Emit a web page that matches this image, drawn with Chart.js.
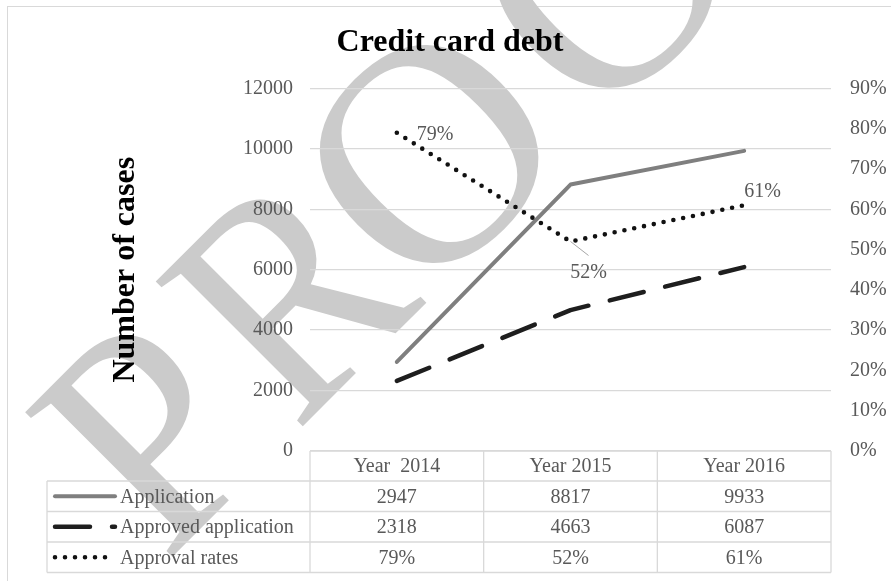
<!DOCTYPE html>
<html>
<head>
<meta charset="utf-8">
<title>Credit card debt</title>
<script src="https://cdn.jsdelivr.net/npm/chart.js@4.4.1/dist/chart.umd.min.js"></script>
<style>
  html, body { margin: 0; padding: 0; background: #fff; }
  canvas { display: block; }
</style>
</head>
<body>
<canvas id="debtChart" width="891" height="581"></canvas>
<script>
// categories and series
const years = ['Year  2014', 'Year 2015', 'Year 2016'];
const applications = [2947, 8817, 9933];
const approved = [2318, 4663, 6087];
const approvalRates = [79, 52, 61];

// axis ranges
const casesMax = 12000, casesStep = 2000;
const rateMax = 90, rateStep = 10;

const serif = '"Liberation Serif", "Times New Roman", serif';
const textGrey = '#595959';
const lineGrey = '#d9d9d9';

// background, frame and the grey PROOF stamp behind everything
const backdrop = {
  id: 'backdrop',
  beforeDraw(chart) {
    const ctx = chart.ctx;
    ctx.save();
    ctx.fillStyle = '#fff';
    ctx.fillRect(0, 0, chart.width, chart.height);
    ctx.strokeStyle = lineGrey;
    ctx.lineWidth = 1;
    ctx.strokeRect(7.5, 6.5, chart.width, chart.height);

    // letter, offset along the slanted baseline, horizontal squeeze
    const stamp = [['P', -352, 0.92], ['R', -167, 0.88], ['O', 11, 1], ['O', 259, 1], ['F', 496, 1]];
    ctx.translate(414, 315);
    ctx.rotate(-Math.PI / 4);
    ctx.font = '315px ' + serif;
    ctx.fillStyle = '#cbcbcb';
    ctx.textAlign = 'left';
    ctx.textBaseline = 'alphabetic';
    stamp.forEach(([ch, u, sx]) => {
      ctx.save();
      ctx.translate(u, 0);
      ctx.scale(sx, 1);
      ctx.fillText(ch, 0, 0);
      ctx.restore();
    });
    ctx.restore();
  }
};

// percentage labels on the approval rate line
const rateLabels = {
  id: 'rateLabels',
  afterDatasetsDraw(chart) {
    const ctx = chart.ctx;
    const pts = chart.getDatasetMeta(2).data;
    ctx.save();
    ctx.font = '20px ' + serif;
    ctx.fillStyle = textGrey;
    ctx.textBaseline = 'middle';

    let p = pts[0];
    ctx.textAlign = 'left';
    ctx.fillText(approvalRates[0] + '%', p.x + 20, p.y + 2);

    p = pts[1];
    ctx.strokeStyle = '#a6a6a6';
    ctx.lineWidth = 1;
    ctx.beginPath();
    ctx.moveTo(p.x, p.y);
    ctx.lineTo(p.x + 18, p.y + 14);
    ctx.stroke();
    ctx.textAlign = 'center';
    ctx.fillText(approvalRates[1] + '%', p.x + 18, p.y + 31);

    p = pts[2];
    ctx.textAlign = 'left';
    ctx.fillText(approvalRates[2] + '%', p.x, p.y - 13);
    ctx.restore();
  }
};

// data table under the plot, with legend keys in the first column
const dataTable = {
  id: 'dataTable',
  afterDraw(chart) {
    const ctx = chart.ctx;
    const xs = chart.scales.x;
    const step = xs.getPixelForValue(1) - xs.getPixelForValue(0);
    const edges = years.map((_, i) => xs.getPixelForValue(i) - step / 2);
    edges.push(edges[edges.length - 1] + step);
    const top = chart.chartArea.bottom;
    const headH = 30, rowH = 30.5;
    const left = 47;
    const right = edges[edges.length - 1];
    const rows = [
      applications.map(String),
      approved.map(String),
      approvalRates.map(v => v + '%')
    ];
    const bottom = top + headH + rows.length * rowH;

    ctx.save();
    ctx.strokeStyle = lineGrey;
    ctx.lineWidth = 1.3;
    ctx.beginPath();
    ctx.moveTo(edges[0], top);
    ctx.lineTo(right, top);
    for (let r = 0; r <= rows.length; r++) {
      const y = top + headH + r * rowH;
      ctx.moveTo(left, y);
      ctx.lineTo(right, y);
    }
    edges.forEach(x => {
      ctx.moveTo(x, top);
      ctx.lineTo(x, bottom);
    });
    ctx.moveTo(left, top + headH);
    ctx.lineTo(left, bottom);
    ctx.stroke();

    ctx.font = '20px ' + serif;
    ctx.fillStyle = textGrey;
    ctx.textBaseline = 'middle';
    ctx.textAlign = 'center';
    years.forEach((y, i) => ctx.fillText(y, (edges[i] + edges[i + 1]) / 2, top + headH / 2 + 1));
    rows.forEach((row, r) => {
      const cy = top + headH + r * rowH + rowH / 2 + 1;
      row.forEach((v, i) => ctx.fillText(v, (edges[i] + edges[i + 1]) / 2, cy));
    });

    // legend keys
    chart.data.datasets.forEach((ds, r) => {
      const cy = top + headH + r * rowH + rowH / 2;
      ctx.save();
      ctx.strokeStyle = ds.borderColor;
      ctx.lineWidth = ds.borderWidth;
      ctx.lineCap = 'round';
      ctx.setLineDash(ds.borderDash || []);
      ctx.beginPath();
      ctx.moveTo(55, cy);
      ctx.lineTo(r === 2 ? 110 : 115, cy);
      ctx.stroke();
      ctx.restore();
      ctx.textAlign = 'left';
      ctx.fillText(ds.label, 120, cy + 1);
    });
    ctx.restore();
  }
};

new Chart(document.getElementById('debtChart'), {
  type: 'line',
  data: {
    labels: years,
    datasets: [
      {
        label: 'Application',
        data: applications,
        yAxisID: 'y',
        borderColor: '#7f7f7f',
        borderWidth: 4,
        borderCapStyle: 'round',
        borderJoinStyle: 'round',
        pointRadius: 0,
        tension: 0,
        order: 3
      },
      {
        label: 'Approved application',
        data: approved,
        yAxisID: 'y',
        borderColor: '#1e1e1e',
        borderWidth: 4.5,
        borderDash: [35, 22],
        borderCapStyle: 'round',
        borderJoinStyle: 'round',
        pointRadius: 0,
        tension: 0,
        order: 2
      },
      {
        label: 'Approval rates',
        data: approvalRates,
        yAxisID: 'y1',
        borderColor: '#111111',
        borderWidth: 4.6,
        borderDash: [0, 10],
        borderCapStyle: 'round',
        pointRadius: 0,
        tension: 0,
        order: 1
      }
    ]
  },
  options: {
    responsive: false,
    animation: false,
    layout: { padding: { left: 9, right: 0, top: 8, bottom: 130 } },
    plugins: {
      legend: { display: false },
      tooltip: { enabled: false },
      title: {
        display: true,
        text: 'Credit card debt',
        color: '#000',
        font: { family: serif, size: 32, weight: 'bold', lineHeight: 1.2 },
        padding: { top: 16, bottom: 26 }
      }
    },
    scales: {
      x: {
        type: 'category',
        offset: true,
        display: false
      },
      y: {
        position: 'left',
        min: 0,
        max: casesMax,
        ticks: {
          stepSize: casesStep,
          color: textGrey,
          font: { family: serif, size: 20 },
          padding: 17,
          callback: v => String(v)
        },
        grid: { color: lineGrey, lineWidth: 1.3, drawTicks: false },
        border: { display: false },
        title: {
          display: true,
          text: 'Number of cases',
          color: '#000',
          font: { family: serif, size: 32, weight: 'bold', lineHeight: 1.2 },
          padding: { top: 98, bottom: 0 }
        },
        afterFit(scale) { scale.width = 301; }
      },
      y1: {
        position: 'right',
        min: 0,
        max: rateMax,
        ticks: {
          stepSize: rateStep,
          color: textGrey,
          font: { family: serif, size: 20 },
          padding: 19,
          callback: v => v + '%'
        },
        grid: { drawOnChartArea: false, drawTicks: false },
        border: { display: false },
        afterFit(scale) { scale.width = 60; }
      }
    }
  },
  plugins: [backdrop, rateLabels, dataTable]
});
</script>
</body>
</html>
